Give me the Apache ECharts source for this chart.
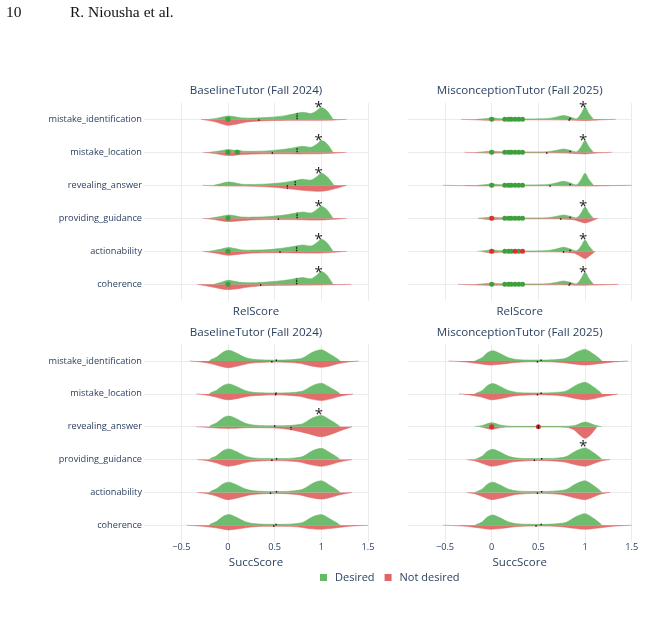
<!DOCTYPE html>
<html>
<head>
<meta charset="utf-8">
<script src="https://cdn.jsdelivr.net/npm/echarts@6.0.0/dist/echarts.min.js"></script>
<style>
  html, body { margin: 0; padding: 0; background: #fff; }
  #main { width: 645px; height: 623px; }
</style>
</head>
<body>
<div id="main"></div>
<script>
// categories, top to bottom
const metrics = [
  "mistake_identification",
  "mistake_location",
  "revealing_answer",
  "providing_guidance",
  "actionability",
  "coherence",
];
const panelTitles = [
  "BaselineTutor (Fall 2024)",
  "MisconceptionTutor (Fall 2025)",
  "BaselineTutor (Fall 2024)",
  "MisconceptionTutor (Fall 2025)",
];
const scoreNames = ["RelScore", "SuccScore"];
const xTicks = [-0.5, 0, 0.5, 1, 1.5];
const legendNames = ["Desired", "Not desired"];

// density curves: [score, density] per metric
const relBaselineDesired = [
  [[-0.2,0],[-0.1,1.4],[0,3.3],[0.07,2.6],[0.15,1.3],[0.3,1.3],[0.45,2],[0.6,3.4],[0.71,5.5],[0.8,7],[0.89,5.8],[0.95,8.5],[1,11.7],[1.06,8.5],[1.125,0]],
  [[-0.2,0],[-0.08,1.5],[0,2.7],[0.06,2],[0.1,2.2],[0.16,1.1],[0.3,1],[0.45,1.6],[0.6,3],[0.71,4.6],[0.8,6],[0.89,5],[0.95,8],[1,11.7],[1.06,8.5],[1.125,0]],
  [[-0.15,0],[-0.07,1.8],[0,3.3],[0.07,2.6],[0.15,1],[0.3,0.9],[0.45,1.5],[0.6,2.8],[0.71,4.6],[0.8,6],[0.89,5.2],[0.95,8.5],[1,12],[1.06,8.7],[1.135,0]],
  [[-0.2,0],[-0.08,1.8],[0,3.3],[0.07,2.6],[0.15,1.2],[0.3,1.2],[0.45,1.8],[0.6,3.2],[0.71,5],[0.8,6.3],[0.89,5.3],[0.95,8.5],[1,12],[1.06,8.5],[1.125,0]],
  [[-0.2,0],[-0.08,2],[0,3.7],[0.07,2.8],[0.15,1.3],[0.3,1.2],[0.45,1.8],[0.6,3.3],[0.71,5],[0.8,6.3],[0.89,5.3],[0.95,8.5],[1,12],[1.06,8.5],[1.125,0]],
  [[-0.15,0],[-0.07,2],[0,4],[0.07,3],[0.15,1.8],[0.3,1.6],[0.45,2.5],[0.6,3.8],[0.71,5.5],[0.8,6.7],[0.89,5.5],[0.95,9],[1,12.7],[1.06,9],[1.125,0]],
];
const relBaselineNotDesired = [
  [[-0.29,0],[-0.15,2.2],[-0.05,5],[0,6],[0.08,5],[0.2,2.7],[0.35,1.6],[0.5,1.2],[0.75,1],[1,1],[1.15,0.6],[1.27,0]],
  [[-0.27,0],[-0.12,1.5],[0,3.3],[0.1,2.6],[0.25,1.8],[0.5,1.5],[0.75,1.6],[0.95,1.5],[1.1,1],[1.27,0]],
  [[-0.27,0],[-0.1,0.6],[0.1,0.7],[0.3,1],[0.5,2],[0.65,3.5],[0.8,5],[0.95,6],[1.05,5.5],[1.15,3.3],[1.27,0]],
  [[-0.27,0],[-0.12,1.6],[0,3.3],[0.1,2.7],[0.25,1.6],[0.5,1.3],[0.75,1.4],[0.95,1.8],[1.1,1.2],[1.27,0]],
  [[-0.27,0],[-0.12,2],[0,4],[0.1,3.2],[0.25,1.8],[0.5,1.4],[0.75,1.6],[0.95,1.8],[1.1,1.2],[1.27,0]],
  [[-0.33,0],[-0.18,2.5],[-0.05,5],[0,5.3],[0.1,4.5],[0.2,3],[0.35,1.5],[0.6,1],[0.9,0.8],[1.1,0.5],[1.32,0]],
];
const relMiscDesired = [
  [[-0.15,0],[-0.05,0.9],[0,1.6],[0.06,0.9],[0.15,0.4],[0.4,0.4],[0.6,0.7],[0.7,2.4],[0.77,3.8],[0.84,2.3],[0.91,0.5],[0.96,6],[1,12.3],[1.04,6],[1.09,0]],
  [[-0.15,0],[-0.05,0.8],[0,1.4],[0.06,0.8],[0.15,0.4],[0.4,0.4],[0.6,0.6],[0.7,2.1],[0.77,3.3],[0.84,2],[0.91,0.5],[0.96,5.8],[1,11.7],[1.04,5.8],[1.09,0]],
  [[-0.15,0],[-0.05,0.9],[0,1.5],[0.06,0.9],[0.15,0.4],[0.4,0.4],[0.6,0.7],[0.7,2.5],[0.77,4],[0.84,2.4],[0.91,0.5],[0.96,6],[1,12],[1.04,6],[1.09,0]],
  [[-0.15,0],[-0.05,0.8],[0,1.4],[0.06,0.8],[0.15,0.4],[0.4,0.4],[0.6,0.6],[0.7,2.1],[0.77,3.3],[0.84,2],[0.91,0.5],[0.96,5.6],[1,11.3],[1.04,5.6],[1.09,0]],
  [[-0.15,0],[-0.05,0.9],[0,1.5],[0.06,0.9],[0.15,0.4],[0.4,0.4],[0.6,0.7],[0.7,2.5],[0.77,4],[0.84,2.4],[0.91,0.5],[0.96,5.6],[1,11.3],[1.04,5.6],[1.09,0]],
  [[-0.15,0],[-0.05,0.8],[0,1.4],[0.06,0.8],[0.15,0.4],[0.4,0.4],[0.6,0.6],[0.7,2.1],[0.77,3.3],[0.84,2],[0.91,0.5],[0.96,6],[1,12],[1.04,6],[1.09,0]],
];
const relMiscNotDesired = [
  [[-0.33,0],[-0.15,0.6],[0,1],[0.2,0.6],[0.5,0.5],[0.8,0.7],[1,1.2],[1.15,0.6],[1.33,0]],
  [[-0.29,0],[-0.12,0.5],[0,0.9],[0.2,0.5],[0.5,0.5],[0.8,0.8],[1,1.6],[1.12,0.7],[1.29,0]],
  [[-0.52,0],[-0.2,0.5],[0,0.7],[0.3,0.5],[0.7,0.5],[1,0.7],[1.25,0.4],[1.5,0]],
  [[-0.14,0],[-0.06,1],[0,1.4],[0.08,0.9],[0.3,0.6],[0.7,0.6],[0.88,1.5],[0.95,3.5],[1,4.7],[1.06,3],[1.14,0]],
  [[-0.11,0],[-0.05,1.2],[0,1.7],[0.07,1],[0.3,0.6],[0.7,0.6],[0.88,1.8],[0.95,5],[1,7.3],[1.05,4.5],[1.11,0]],
  [[-0.36,0],[-0.15,0.7],[0,1],[0.2,0.6],[0.5,0.5],[0.8,0.6],[1,0.9],[1.2,0.5],[1.36,0]],
];
const succBaselineDesired = [
  [[-0.2,0],[-0.18,1.5],[-0.125,3.7],[-0.05,9],[0.01,10.7],[0.09,8],[0.18,3.7],[0.27,1.7],[0.4,1],[0.6,1],[0.72,1.7],[0.8,3],[0.91,9],[1,11.3],[1.09,7],[1.18,1.7],[1.2,0]],
  [[-0.2,0],[-0.18,1.4],[-0.125,3.5],[-0.05,8.4],[0.01,10],[0.09,7.5],[0.18,3.5],[0.27,1.6],[0.4,1],[0.6,1],[0.72,1.6],[0.8,2.8],[0.91,8.5],[1,10.7],[1.09,6.6],[1.18,1.6],[1.2,0]],
  [[-0.2,0],[-0.18,1.5],[-0.125,3.7],[-0.05,9],[0.01,10.7],[0.09,8],[0.18,3.7],[0.27,1.7],[0.4,1],[0.6,1],[0.72,1.7],[0.8,3],[0.91,9],[1,11.3],[1.09,7],[1.18,1.7],[1.2,0]],
  [[-0.2,0],[-0.18,1.5],[-0.125,3.7],[-0.05,9],[0.01,10.7],[0.09,8],[0.18,3.7],[0.27,1.7],[0.4,1],[0.6,1],[0.72,1.7],[0.8,3],[0.91,9],[1,11.3],[1.09,7],[1.18,1.7],[1.2,0]],
  [[-0.2,0],[-0.18,1.4],[-0.125,3.6],[-0.05,8.7],[0.01,10.3],[0.09,7.7],[0.18,3.6],[0.27,1.7],[0.4,1],[0.6,1],[0.72,1.8],[0.8,3.1],[0.91,9.3],[1,11.7],[1.09,7.2],[1.18,1.8],[1.2,0]],
  [[-0.2,0],[-0.18,1.5],[-0.125,3.7],[-0.05,9],[0.01,10.7],[0.09,8],[0.18,3.7],[0.27,1.7],[0.4,1],[0.6,1],[0.72,1.6],[0.8,2.9],[0.91,8.6],[1,10.7],[1.09,6.6],[1.18,1.6],[1.2,0]],
];
const succBaselineNotDesired = [
  [[-0.41,0],[-0.3,0.8],[-0.2,2.3],[-0.09,5],[0,6.7],[0.12,4.7],[0.23,2.3],[0.37,1.3],[0.5,1],[0.63,1.3],[0.77,2.3],[0.88,4.7],[1,6.3],[1.09,5],[1.2,2.3],[1.3,0.8],[1.4,0]],
  [[-0.34,0],[-0.25,0.8],[-0.15,2.7],[-0.07,4.8],[0,6],[0.12,4.3],[0.23,2.2],[0.37,1.3],[0.5,1],[0.63,1.3],[0.77,2.5],[0.88,5],[1,6.7],[1.1,5],[1.2,2.3],[1.34,0]],
  [[-0.34,0],[-0.2,0.8],[-0.05,1.6],[0.05,1.6],[0.2,1],[0.4,1],[0.55,1.6],[0.7,3.5],[0.85,6.7],[1,10],[1.12,7],[1.22,3.5],[1.33,0]],
  [[-0.33,0],[-0.22,1.2],[-0.12,3.5],[-0.05,5.8],[0,6.7],[0.1,5.2],[0.23,2.3],[0.37,1.3],[0.5,1],[0.63,1.3],[0.77,2.5],[0.88,5],[1,6.7],[1.1,5],[1.2,2.3],[1.33,0]],
  [[-0.33,0],[-0.22,1.3],[-0.12,3.8],[-0.05,6.3],[0,7.3],[0.1,5.6],[0.23,2.5],[0.37,1.3],[0.5,1],[0.63,1.3],[0.77,2.5],[0.88,5],[1,6.7],[1.1,5],[1.2,2.3],[1.33,0]],
  [[-0.44,0],[-0.3,0.8],[-0.15,2.3],[-0.05,4],[0,4.7],[0.12,3.5],[0.25,1.7],[0.4,1],[0.6,1],[0.75,1.6],[0.88,3.5],[1,4],[1.12,3],[1.3,1],[1.5,0]],
];
const succMiscDesired = [
  [[-0.18,0],[-0.15,1.3],[-0.1,3.5],[-0.05,8],[0.01,10.3],[0.09,7.5],[0.18,3.3],[0.27,1.5],[0.4,1],[0.6,1],[0.72,1.7],[0.8,3],[0.91,9],[1,11.7],[1.09,7],[1.16,2],[1.18,0]],
  [[-0.18,0],[-0.15,1.3],[-0.1,3.5],[-0.05,8],[0.01,10.3],[0.09,7.5],[0.18,3.3],[0.27,1.5],[0.4,1],[0.6,1],[0.72,1.7],[0.8,3],[0.91,9],[1,11.7],[1.09,7],[1.16,2],[1.18,0]],
  [[-0.18,0],[-0.1,1.3],[0,4],[0.1,1.5],[0.2,0.5],[0.5,0.4],[0.8,0.5],[0.9,1.5],[1,4.7],[1.1,1.8],[1.18,0]],
  [[-0.18,0],[-0.15,1.3],[-0.1,3.5],[-0.05,8],[0.01,10.3],[0.09,7.5],[0.18,3.3],[0.27,1.5],[0.4,1],[0.6,1],[0.72,1.7],[0.8,3],[0.91,9],[1,11.7],[1.09,7],[1.16,2],[1.18,0]],
  [[-0.18,0],[-0.15,1.3],[-0.1,3.5],[-0.05,8],[0.01,10.3],[0.09,7.5],[0.18,3.3],[0.27,1.5],[0.4,1],[0.6,1],[0.72,1.7],[0.8,3],[0.91,9],[1,11.7],[1.09,7],[1.16,2],[1.18,0]],
  [[-0.18,0],[-0.15,1.3],[-0.1,3.5],[-0.05,8],[0.01,10.3],[0.09,7.5],[0.18,3.3],[0.27,1.5],[0.4,1],[0.6,1],[0.72,1.7],[0.8,3],[0.91,9],[1,11.7],[1.09,7],[1.16,2],[1.18,0]],
];
const succMiscNotDesired = [
  [[-0.46,0],[-0.3,0.8],[-0.15,2.5],[-0.05,3.7],[0,4],[0.12,3],[0.25,1.5],[0.4,0.8],[0.6,0.8],[0.75,1.5],[0.88,3],[1,4],[1.12,3],[1.3,1],[1.46,0]],
  [[-0.35,0],[-0.25,0.8],[-0.12,3],[-0.05,5],[0,6],[0.1,4.7],[0.23,2.2],[0.37,1.2],[0.5,0.9],[0.63,1.2],[0.77,2.2],[0.9,4.7],[1,6],[1.1,4.7],[1.23,2],[1.35,0]],
  [[-0.125,0],[-0.06,1.5],[0,2.7],[0.06,1.5],[0.15,0.4],[0.5,0.3],[0.8,0.5],[0.88,3],[0.94,8],[1,11.7],[1.06,8],[1.12,1],[1.125,0]],
  [[-0.27,0],[-0.17,1.5],[-0.08,4.5],[0,6.7],[0.1,5.2],[0.23,2.3],[0.37,1.2],[0.5,0.9],[0.63,1.2],[0.77,2.3],[0.9,5.2],[1,6.7],[1.08,4.5],[1.17,1.5],[1.27,0]],
  [[-0.27,0],[-0.17,1.6],[-0.08,4.9],[0,7.3],[0.1,5.7],[0.23,2.5],[0.37,1.2],[0.5,0.9],[0.63,1.2],[0.77,2.5],[0.9,5.7],[1,7.3],[1.08,4.9],[1.17,1.6],[1.27,0]],
  [[-0.52,0],[-0.3,0.8],[-0.15,2.5],[-0.05,3.7],[0,4],[0.12,3],[0.25,1.5],[0.4,0.8],[0.6,0.8],[0.75,1.5],[0.88,3],[1,4],[1.12,3],[1.3,1],[1.5,0]],
];

// means [desired, not desired] per metric
const relBaselineMeans = [[0.74,0.33],[0.74,0.475],[0.72,0.636],[0.74,0.54],[0.735,0.557],[0.735,0.35]];
const relMiscMeans = [[0.84,0.83],[0.84,0.59],[0.84,0.625],[0.84,0.74],[0.84,0.77],[0.84,0.83]];
const succBaselineMeans = [[0.518,0.47],[0.515,0.51],[0.5,0.675],[0.52,0.47],[0.52,0.455],[0.515,0.49]];
const succMiscMeans = [[0.53,0.49],[0.53,0.49],[0.5,0.5],[0.536,0.457],[0.536,0.49],[0.53,0.475]];

// outlier points per metric
const relBaselinePtsDesired = [[0],[0,0.1],[],[0],[0],[0]];
const relBaselinePtsNotDesired = [[],[],[],[],[],[]];
const relMiscPtsDesired = [
  [0,0.14,0.18,0.21,0.25,0.29,0.33],
  [0,0.14,0.18,0.21,0.25,0.29,0.33],
  [0,0.14,0.18,0.21,0.25,0.29,0.33],
  [0.14,0.18,0.21,0.25,0.29,0.33],
  [0.14,0.18,0.21,0.29],
  [0,0.14,0.18,0.21,0.25,0.29,0.33],
];
const relMiscPtsNotDesired = [[],[],[],[0],[0,0.25,0.33],[]];
const succBaselinePtsDesired = [[],[],[],[],[],[]];
const succBaselinePtsNotDesired = [[],[],[],[],[],[]];
const succMiscPtsDesired = [[],[],[],[],[],[]];
const succMiscPtsNotDesired = [[],[],[0,0.5],[],[],[]];

// significance stars: [score, side] per metric (side 1 = above, -1 = below)
const relBaselineStars = [[0.97,1],[0.97,1],[0.97,1],[0.97,1],[0.97,1],[0.97,1]];
const relMiscStars = [[0.98,1],[0.98,1],null,[0.98,1],[0.98,1],[0.98,1]];
const succBaselineStars = [null,null,[0.975,1],null,null,null];
const succMiscStars = [null,null,[0.98,-1],null,null,null];

const GREEN = "#66b865";
const RED = "#e06666";
const TEXT = "#2a3f5f";
const GRIDLINE = "#e9ebef";
const FONT = "'Open Sans', sans-serif";
const REF_BAND = 33;

const panels = [
  { D: relBaselineDesired, N: relBaselineNotDesired, means: relBaselineMeans, pD: relBaselinePtsDesired, pN: relBaselinePtsNotDesired, stars: relBaselineStars },
  { D: relMiscDesired, N: relMiscNotDesired, means: relMiscMeans, pD: relMiscPtsDesired, pN: relMiscPtsNotDesired, stars: relMiscStars },
  { D: succBaselineDesired, N: succBaselineNotDesired, means: succBaselineMeans, pD: succBaselinePtsDesired, pN: succBaselinePtsNotDesired, stars: succBaselineStars },
  { D: succMiscDesired, N: succMiscNotDesired, means: succMiscMeans, pD: succMiscPtsDesired, pN: succMiscPtsNotDesired, stars: succMiscStars },
];

const grids = [
  { left: 144, top: 102.8, width: 224, height: 198 },
  { left: 407.7, top: 102.8, width: 224, height: 198 },
  { left: 144, top: 344.6, width: 224, height: 197.1 },
  { left: 407.7, top: 344.6, width: 224, height: 197.1 },
];

function heightAt(curve, x) {
  for (let i = 1; i < curve.length; i++) {
    const x0 = curve[i - 1][0], h0 = curve[i - 1][1];
    const x1 = curve[i][0], h1 = curve[i][1];
    if (x >= x0 && x <= x1) {
      return x1 === x0 ? h1 : h0 + (h1 - h0) * (x - x0) / (x1 - x0);
    }
  }
  return 0;
}

// each custom item carries [mean score, metric index]
function violinRender(curves, sign, color) {
  return function (params, api) {
    const row = params.dataIndex;
    const curve = curves[row];
    if (!curve) return null;
    const k = api.size([0, 1])[1] / REF_BAND;
    const pts = curve.map(function (d) {
      const p = api.coord([d[0], row]);
      return [p[0], p[1] - sign * d[1] * k];
    });
    // keep the smoothed outline inside the points' own box
    const anchor = pts[0].slice();
    return {
      type: "polyline",
      shape: { points: pts, smooth: 0.3, smoothConstraint: [anchor, anchor] },
      style: { fill: color, stroke: color, lineWidth: 0.6, opacity: 0.95 },
    };
  };
}

function meanRender(panel) {
  return function (params, api) {
    const row = params.dataIndex;
    const k = api.size([0, 1])[1] / REF_BAND;
    const m = panel.means[row];
    const children = [];
    [[m[0], panel.D[row], 1], [m[1], panel.N[row], -1]].forEach(function (e) {
      const p = api.coord([e[0], row]);
      const h = Math.max(heightAt(e[1], e[0]) * k, 1.6);
      children.push({
        type: "line",
        shape: { x1: p[0], y1: p[1], x2: p[0], y2: p[1] - e[2] * h },
        style: { stroke: "#111", lineWidth: 1.3, lineDash: [1.5, 1] },
      });
    });
    return { type: "group", children: children };
  };
}

function starRender(panel) {
  return function (params, api) {
    const row = params.dataIndex;
    const star = panel.stars[row];
    if (!star) return null;
    const band = api.size([0, 1])[1];
    const p = api.coord([star[0], row]);
    const y = star[1] > 0 ? p[1] - band * 0.5 + 4.5 : p[1] + band * 0.5 + 3.5;
    return {
      type: "text",
      x: p[0],
      y: y,
      style: { text: "*", fontSize: 15, fontFamily: FONT, fill: "#222", align: "center", verticalAlign: "middle" },
    };
  };
}

const series = [];
panels.forEach(function (panel, g) {
  const rows = panel.means.map(function (m, i) { return [m[0], i]; });
  const common = { xAxisIndex: g, yAxisIndex: g, encode: { x: 0, y: 1 }, data: rows };
  series.push(Object.assign({
    name: legendNames[1], type: "custom", z: 2,
    itemStyle: { color: RED },
    renderItem: violinRender(panel.N, -1, RED),
  }, common));
  series.push(Object.assign({
    name: legendNames[0], type: "custom", z: 2,
    itemStyle: { color: GREEN },
    renderItem: violinRender(panel.D, 1, GREEN),
  }, common));
  const ptsD = [], ptsN = [];
  panel.pD.forEach(function (xs, i) { xs.forEach(function (x) { ptsD.push([x, i]); }); });
  panel.pN.forEach(function (xs, i) { xs.forEach(function (x) { ptsN.push([x, i]); }); });
  series.push({
    name: legendNames[0], type: "scatter", xAxisIndex: g, yAxisIndex: g, z: 3, symbolSize: 5,
    itemStyle: { color: "#3f9f3c", opacity: 1 }, data: ptsD,
  });
  series.push({
    name: legendNames[1], type: "scatter", xAxisIndex: g, yAxisIndex: g, z: 3, symbolSize: 5,
    itemStyle: { color: "#d93030", opacity: 1 }, data: ptsN,
  });
  series.push(Object.assign({ type: "custom", z: 4, renderItem: meanRender(panel) }, common));
  series.push(Object.assign({ type: "custom", z: 4, renderItem: starRender(panel) }, common));
});

const chart = echarts.init(document.getElementById("main"), null, { renderer: "canvas" });

const option = {
  animation: false,
  backgroundColor: "#fff",
  textStyle: { fontFamily: FONT },
  grid: grids,
  xAxis: grids.map(function (gr, g) {
    return {
      type: "value",
      gridIndex: g,
      min: -0.9,
      max: 1.5,
      name: scoreNames[g < 2 ? 0 : 1],
      nameLocation: "middle",
      nameGap: g < 2 ? 5 : 15,
      nameTextStyle: { fontSize: 11.5, color: TEXT, fontFamily: FONT },
      axisLine: { show: false },
      axisTick: { show: false, customValues: xTicks },
      axisLabel: {
        show: g >= 2,
        customValues: xTicks,
        margin: 1,
        fontSize: 9.2,
        color: TEXT,
        fontFamily: FONT,
        formatter: function (v) { return v < 0 ? "\u2212" + Math.abs(v) : String(v); },
      },
      splitLine: { show: true, lineStyle: { color: GRIDLINE, width: 1 } },
    };
  }),
  yAxis: grids.map(function (gr, g) {
    return {
      type: "value",
      gridIndex: g,
      min: -0.5,
      max: 5.5,
      inverse: true,
      axisLine: { show: false },
      axisTick: { show: false, customValues: metrics.map(function (m, i) { return i; }) },
      axisLabel: {
        show: g % 2 === 0,
        customValues: metrics.map(function (m, i) { return i; }),
        margin: 2,
        fontSize: 9.2,
        color: TEXT,
        fontFamily: FONT,
        formatter: function (v) { return metrics[v]; },
      },
      splitLine: { show: true, lineStyle: { color: GRIDLINE, width: 1 } },
    };
  }),
  legend: {
    data: legendNames,
    left: 320,
    top: 572,
    padding: 0,
    icon: "rect",
    itemWidth: 7,
    itemHeight: 7,
    itemGap: 10,
    textStyle: { fontSize: 11, color: TEXT, fontFamily: FONT, padding: [0, 0, 0, 3] },
  },
  graphic: [
    { type: "text", left: 6, top: 5, style: { text: "10", font: "15.5px 'Liberation Serif'", fill: "#111" } },
    { type: "text", left: 70, top: 5, style: { text: "R. Niousha et al.", font: "15.5px 'Liberation Serif'", fill: "#111" } },
  ].concat(panelTitles.map(function (t, g) {
    return {
      type: "text",
      x: grids[g].left + grids[g].width / 2,
      y: g < 2 ? 90.5 : 332.3,
      style: { text: t, fontSize: 11.6, fontFamily: FONT, fill: TEXT, align: "center", verticalAlign: "middle" },
    };
  })),
  series: series,
};

chart.setOption(option);
</script>
</body>
</html>
